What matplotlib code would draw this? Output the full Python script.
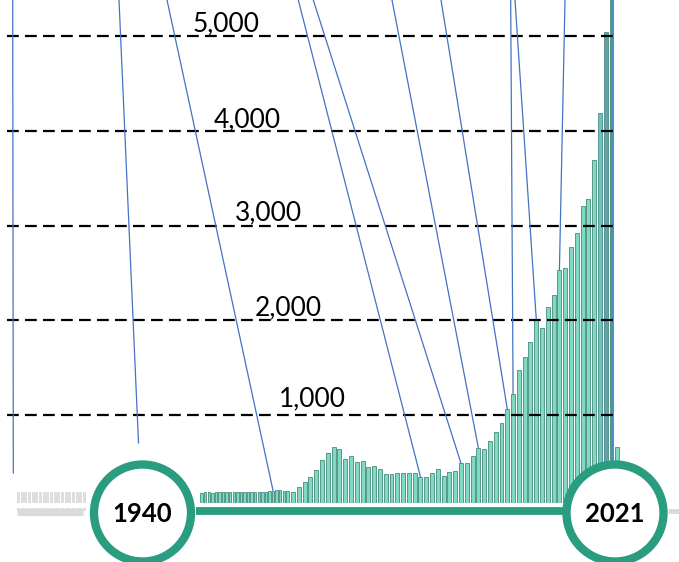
import matplotlib
matplotlib.use("Agg")
import matplotlib.pyplot as plt
from matplotlib.patches import Circle
from matplotlib.scale import FuncScale
import numpy as np

# yearly counts shown as bars
years = np.arange(1940, 2022)
counts = [180, 185, 185, 180, 185, 190, 185, 185, 190, 185,
          190, 190, 185, 190, 190, 185, 190, 195, 195, 200,
          205, 210, 215, 205,
          204, 193, 240, 299, 345, 422, 527, 604, 668, 640,
          535, 570, 509, 520, 450, 464, 429, 380, 380, 393,
          393, 393, 387, 351, 351, 387, 429, 359, 404, 411,
          493, 493, 570, 657, 643, 728, 826, 918, 1065, 1224,
          1477, 1619, 1775, 2015, 1925, 2141, 2268, 2530, 2550, 2777,
          2919, 3207, 3281, 3692, 4185, 5039, 5600, 668]

# faded bars before the start of the timeline
earlier_years = np.arange(1921, 1940)
earlier_counts = [185, 185, 190, 185, 185, 190, 185, 190, 185, 185,
                  190, 185, 185, 190, 185, 190, 185, 185, 190]

grid_values = [1000, 2000, 3000, 4000, 5000]
grid_labels = ["1,000", "2,000", "3,000", "4,000", "5,000"]
start_label, end_label = "1940", "2021"

# years the leader lines point at
pointed_years = [1960, 1987, 1994, 1997, 2002, 2003, 2007, 2011]

W, H = 679, 562
TEAL = "#2a9c80"
BLUE = "#4472c4"

fig = plt.figure(figsize=(W / 100, H / 100), dpi=100)
fig.patch.set_facecolor("white")

# value axis: 1000 units = 94.8 px, zero at 510 px from the top
ylo, yhi = -(H - 510) / 0.0948, 510 / 0.0948

# x scale: earlier years are squeezed, later years wider
k_years = np.array([1800.0, 1940.0, 1964.0, 2021.0, 2200.0])
k_px = np.array([201.7 - 140 * 3.57, 201.7, 287.3, 617.3, 617.3 + 179 * 5.79])


def fwd(v):
    return np.interp(v, k_years, k_px)


def inv(v):
    return np.interp(v, k_px, k_years)


ax = fig.add_axes([0, 0, 1, 1])
ax.set_xscale(FuncScale(ax, (fwd, inv)))
ax.set_xlim(inv(0), inv(W))
ax.set_ylim(ylo, yhi)
ax.axis("off")

cols = []
for y in years:
    if y == 2020:
        cols.append("#4a8ec6")
    elif y == 2019:
        cols.append("#6a9cb0")
    elif y == 2018:
        cols.append("#6cc0cf")
    else:
        cols.append("#7fdac3")
ax.bar(years, counts, width=0.68, color=cols, edgecolor="#57998a",
       linewidth=0.7, zorder=2)

for v in grid_values:
    ax.axhline(v, xmin=7 / W, xmax=616 / W, color="black", lw=1.6,
               linestyle=(0, (5.3, 2.8)), zorder=3)

# faded earlier bars
gx = fig.add_axes([16 / W, 0, 70 / W, 1])
gx.set_xlim(1920.5, 1939.5)
gx.set_ylim(ylo, yhi)
gx.axis("off")
gx.bar(earlier_years, earlier_counts, width=0.55, color="#e0e0e0",
       edgecolor="#d6d6d6", linewidth=0.5)

# overlay in pixel coordinates
ov = fig.add_axes([0, 0, 1, 1])
ov.set_xlim(0, W)
ov.set_ylim(H, 0)
ov.axis("off")
ov.patch.set_alpha(0)

# leader lines
tops = [167, 298.3, 313.3, 392, 441, 510.7, 515, 565]
for yr, tx in zip(pointed_years, tops):
    ax.annotate("", xy=(yr, counts[yr - 1940]), xytext=(tx, 0),
                textcoords=ov.transData,
                arrowprops=dict(arrowstyle="-", color=BLUE, lw=0.9,
                                shrinkA=0, shrinkB=0), zorder=4)
ov.plot([12.7, 13.3], [0, 473], color=BLUE, lw=0.9)
ov.plot([119, 138.5], [0, 443], color=BLUE, lw=0.9)

# axis labels
label_pos = [(312, 406.7), (288, 315), (268, 220.5), (247, 127), (226.5, 31.5)]
for lab, (lx, ly) in zip(grid_labels, label_pos):
    ov.text(lx, ly, lab, ha="center", va="baseline", fontsize=19,
            family="Lato", color="black")

# timeline
ov.plot([10, 565], [504.5, 504.5], color="white", lw=3.6, solid_capstyle="butt")
ov.plot([17, 83], [511.5, 511.5], color="#dadada", lw=5.2, solid_capstyle="butt")
ov.plot([196, 565], [511, 511], color=TEAL, lw=5.6, solid_capstyle="butt")
ov.plot([668, 679], [510.5, 510.5], color="#dadada", lw=3.5, solid_capstyle="butt")

for cx, lab in [(142.5, start_label), (615, end_label)]:
    ov.add_patch(Circle((cx, 513), 48.5, facecolor="white", edgecolor=TEAL,
                        lw=6, zorder=5))
    ov.text(cx, 521.5, lab, ha="center", va="baseline", fontsize=18.5,
            fontweight="bold", family="Lato", color="black", zorder=6)

fig.savefig("out.png", dpi=100)
